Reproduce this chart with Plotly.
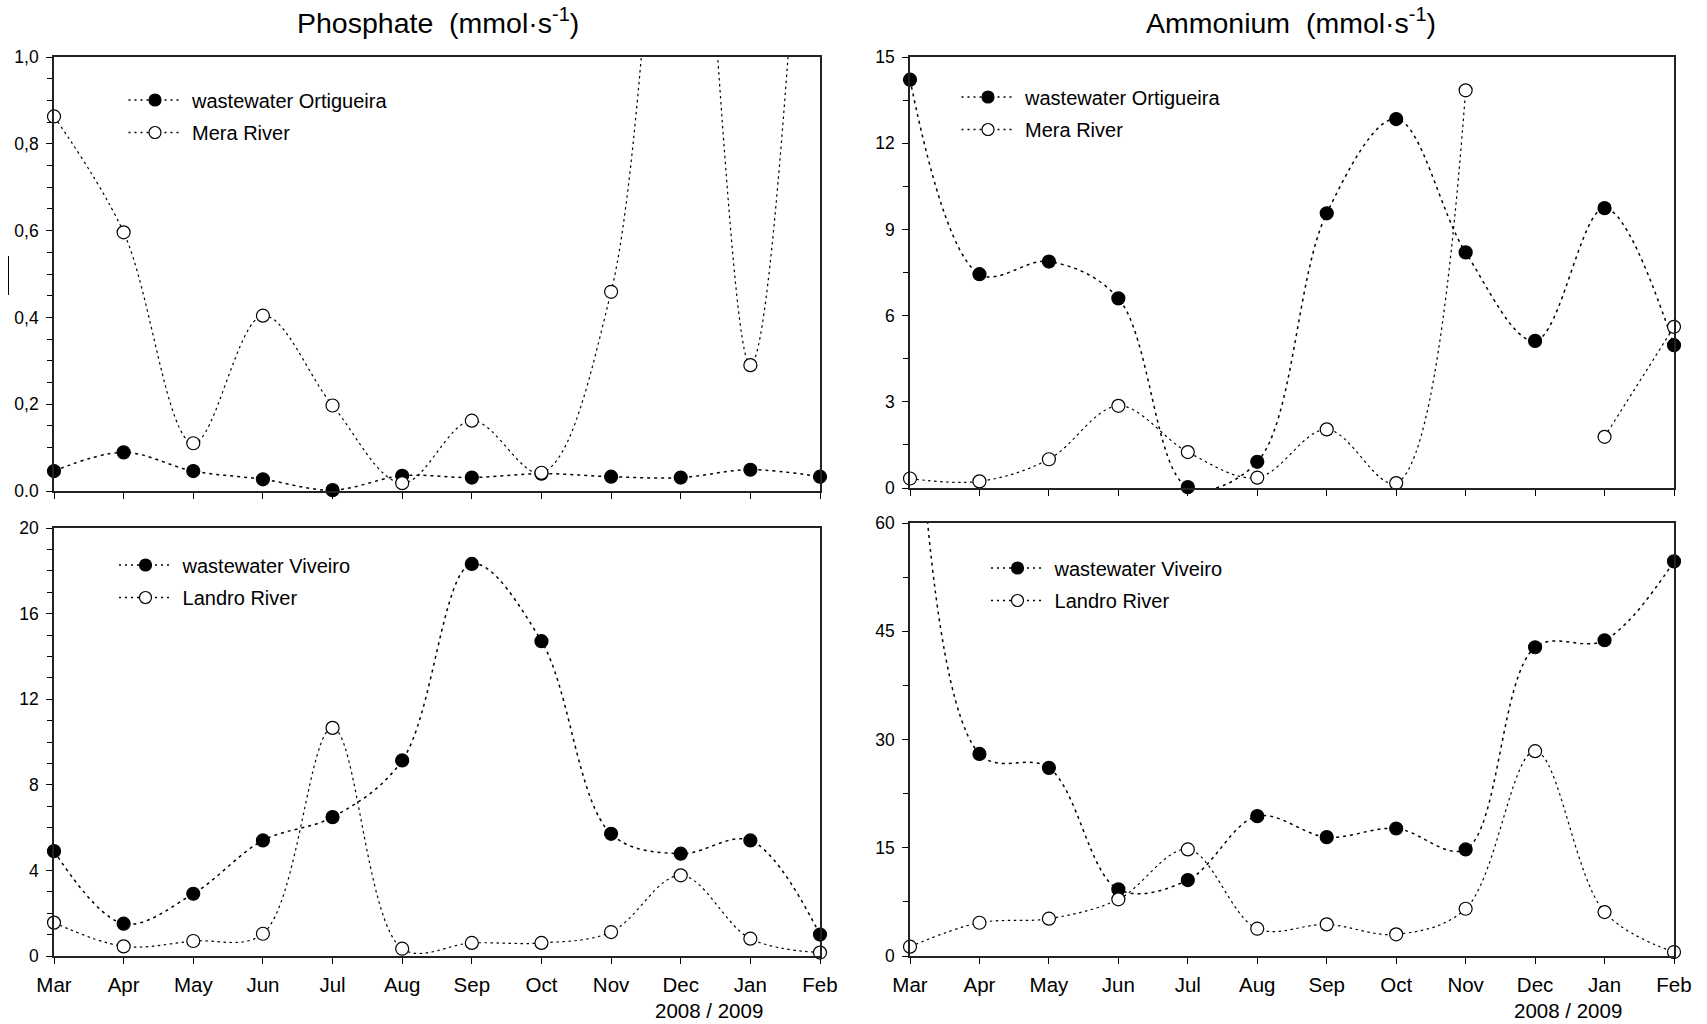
import plotly.graph_objects as go

# ---------------- data ----------------
months = ["Mar", "Apr", "May", "Jun", "Jul", "Aug", "Sep", "Oct", "Nov", "Dec", "Jan", "Feb"]

phos_ortigueira = [0.046, 0.089, 0.046, 0.027, 0.002, 0.035, 0.031, 0.040, 0.033, 0.031, 0.049, 0.033]
phos_mera = [0.863, 0.596, 0.110, 0.404, 0.197, 0.018, 0.162, 0.042, 0.459, 1.80, 0.290, 2.20]

amm_ortigueira = [14.21, 7.44, 7.88, 6.60, 0.03, 0.91, 9.56, 12.84, 8.20, 5.12, 9.74, 4.97]
amm_mera = [0.33, 0.23, 1.00, 2.86, 1.25, 0.36, 2.04, 0.17, 13.84, None, 1.78, 5.61]

phos_viveiro = [4.90, 1.51, 2.91, 5.40, 6.49, 9.14, 18.32, 14.71, 5.71, 4.78, 5.40, 1.00]
phos_landro = [1.56, 0.45, 0.70, 1.04, 10.66, 0.34, 0.61, 0.61, 1.12, 3.77, 0.81, 0.16]

amm_viveiro = [100.0, 28.0, 26.07, 9.23, 10.52, 19.38, 16.47, 17.67, 14.77, 42.78, 43.75, 54.68]
amm_landro = [1.29, 4.61, 5.17, 7.85, 14.77, 3.78, 4.38, 3.00, 6.55, 28.38, 6.09, 0.55]

phos_top_ticks = [0.0, 0.2, 0.4, 0.6, 0.8, 1.0]
phos_top_labels = ["0.0", "0,2", "0,4", "0,6", "0,8", "1,0"]
amm_top_ticks = [0, 3, 6, 9, 12, 15]
phos_bot_ticks = [0, 4, 8, 12, 16, 20]
amm_bot_ticks = [0, 15, 30, 45, 60]

titles = ["Phosphate\u00a0\u00a0(mmol\u00b7s<sup>-1</sup>)", "Ammonium\u00a0\u00a0(mmol\u00b7s<sup>-1</sup>)"]
year_label = "2008 / 2009"

# ---------------- layout helpers ----------------
W, H = 1707, 1024
FONT = "Liberation Sans, Arial, Helvetica, sans-serif"


def fx(p):
    return p / W


def fy(p):
    return 1 - p / H


panels = [
    dict(ax="", xr=(54, 820), yr=(57, 491), rng=[0, 1.0], tv=phos_top_ticks, tt=phos_top_labels, minor=0.05,
         labels=False, legend="legend", lpos=(123.5, 80.5),
         series=[("wastewater Ortigueira", phos_ortigueira, True), ("Mera River", phos_mera, False)]),
    dict(ax="2", xr=(910, 1674), yr=(57, 488), rng=[0, 15], tv=amm_top_ticks, tt=[str(v) for v in amm_top_ticks],
         minor=1.5, labels=False, legend="legend2", lpos=(956.5, 77.5),
         series=[("wastewater Ortigueira", amm_ortigueira, True), ("Mera River", amm_mera, False)]),
    dict(ax="3", xr=(54, 820), yr=(528, 956), rng=[0, 20], tv=phos_bot_ticks, tt=[str(v) for v in phos_bot_ticks],
         minor=1, labels=True, legend="legend3", lpos=(114, 545.5),
         series=[("wastewater Viveiro", phos_viveiro, True), ("Landro River", phos_landro, False)]),
    dict(ax="4", xr=(910, 1674), yr=(523, 956), rng=[0, 60], tv=amm_bot_ticks, tt=[str(v) for v in amm_bot_ticks],
         minor=7.5, labels=True, legend="legend4", lpos=(986, 548.5),
         series=[("wastewater Viveiro", amm_viveiro, True), ("Landro River", amm_landro, False)]),
]

fig = go.Figure()
layout = dict(
    width=W, height=H, margin=dict(l=0, r=0, t=0, b=0, autoexpand=False),
    paper_bgcolor="white", plot_bgcolor="white",
    font=dict(family=FONT, color="black"),
    showlegend=True,
    annotations=[], shapes=[],
)

for p in panels:
    xa = "x" + p["ax"]
    ya = "y" + p["ax"]
    lo, hi = p["rng"]
    for name, vals, filled in p["series"]:
        lw = 1.5 if filled else 1.2
        dash = "3px,4px" if filled else "2.5px,3.5px"
        # curve (clipped to plot area)
        fig.add_trace(go.Scatter(
            x=months, y=vals, mode="lines", xaxis=xa, yaxis=ya,
            line=dict(shape="spline", smoothing=1.0, color="black", width=lw, dash=dash),
            showlegend=False, hoverinfo="skip", connectgaps=False,
        ))
        # markers (only points inside the axis range are drawn)
        shown = [v if (v is not None and lo <= v <= hi) else None for v in vals]
        fig.add_trace(go.Scatter(
            x=months, y=shown, mode="markers", xaxis=xa, yaxis=ya, cliponaxis=False,
            marker=dict(symbol="circle", size=13, color="black" if filled else "white",
                        line=dict(color="black", width=1.2)),
            showlegend=False,
        ))
        # legend entry
        fig.add_trace(go.Scatter(
            x=[None], y=[None], mode="lines+markers", xaxis=xa, yaxis=ya, name="\u00a0" + name,
            legend=p["legend"], legendgroup=p["legend"] + name,
            line=dict(color="black", width=1.5, dash="2px,4px"),
            marker=dict(symbol="circle", size=12, color="black" if filled else "white",
                        line=dict(color="black", width=1.2)),
        ))

    key = p["ax"]
    layout["xaxis" + key] = dict(
        domain=[fx(p["xr"][0]), fx(p["xr"][1])], anchor=ya, automargin=False,
        type="category", categoryorder="array", categoryarray=months, range=[0, len(months) - 1],
        showline=True, linecolor="#222", linewidth=1.6, mirror=True,
        ticks="outside", ticklen=6, tickwidth=1.3, tickcolor="black",
        showticklabels=p["labels"], tickfont=dict(size=20.5, family=FONT), ticklabelstandoff=4,
        showgrid=False, zeroline=False, fixedrange=True,
    )
    layout["yaxis" + key] = dict(
        domain=[fy(p["yr"][1]), fy(p["yr"][0])], anchor=xa, automargin=False,
        range=p["rng"], tickmode="array", tickvals=p["tv"], ticktext=p["tt"],
        showline=True, linecolor="#222", linewidth=1.6, mirror=True,
        ticks="outside", ticklen=6, tickwidth=1.3, tickcolor="black",
        minor=dict(dtick=p["minor"], tick0=0, ticks="outside", ticklen=5, tickwidth=1.2, tickcolor="black"),
        tickfont=dict(size=17.5, family=FONT), ticklabelstandoff=4,
        showgrid=False, zeroline=False, fixedrange=True,
    )
    layout[p["legend"]] = dict(
        x=fx(p["lpos"][0]), y=fy(p["lpos"][1]), xanchor="left", yanchor="top",
        bgcolor="rgba(0,0,0,0)", borderwidth=0, font=dict(size=20, family=FONT),
        itemwidth=53, tracegroupgap=3.5, traceorder="grouped",
    )

# titles
layout["annotations"].append(dict(text=titles[0], x=fx(438), y=fy(21), xref="paper", yref="paper",
                                  showarrow=False, font=dict(size=28.5, family=FONT), xanchor="center", yanchor="middle"))
layout["annotations"].append(dict(text=titles[1], x=fx(1291), y=fy(21), xref="paper", yref="paper",
                                  showarrow=False, font=dict(size=28.5, family=FONT), xanchor="center", yanchor="middle"))
# year labels
for xc in (709, 1568):
    layout["annotations"].append(dict(text=year_label, x=fx(xc), y=fy(1010), xref="paper", yref="paper",
                                      showarrow=False, font=dict(size=20.5, family=FONT),
                                      xanchor="center", yanchor="middle"))
# stray mark left of the first y axis
layout["shapes"].append(dict(type="line", xref="paper", yref="paper", x0=fx(8.5), x1=fx(8.5),
                             y0=fy(256), y1=fy(295), line=dict(color="black", width=1)))

fig.update_layout(**layout)
fig.write_html("out.html", config={"displayModeBar": False},
               post_script="document.body.style.margin='0';document.body.style.overflow='hidden';")
